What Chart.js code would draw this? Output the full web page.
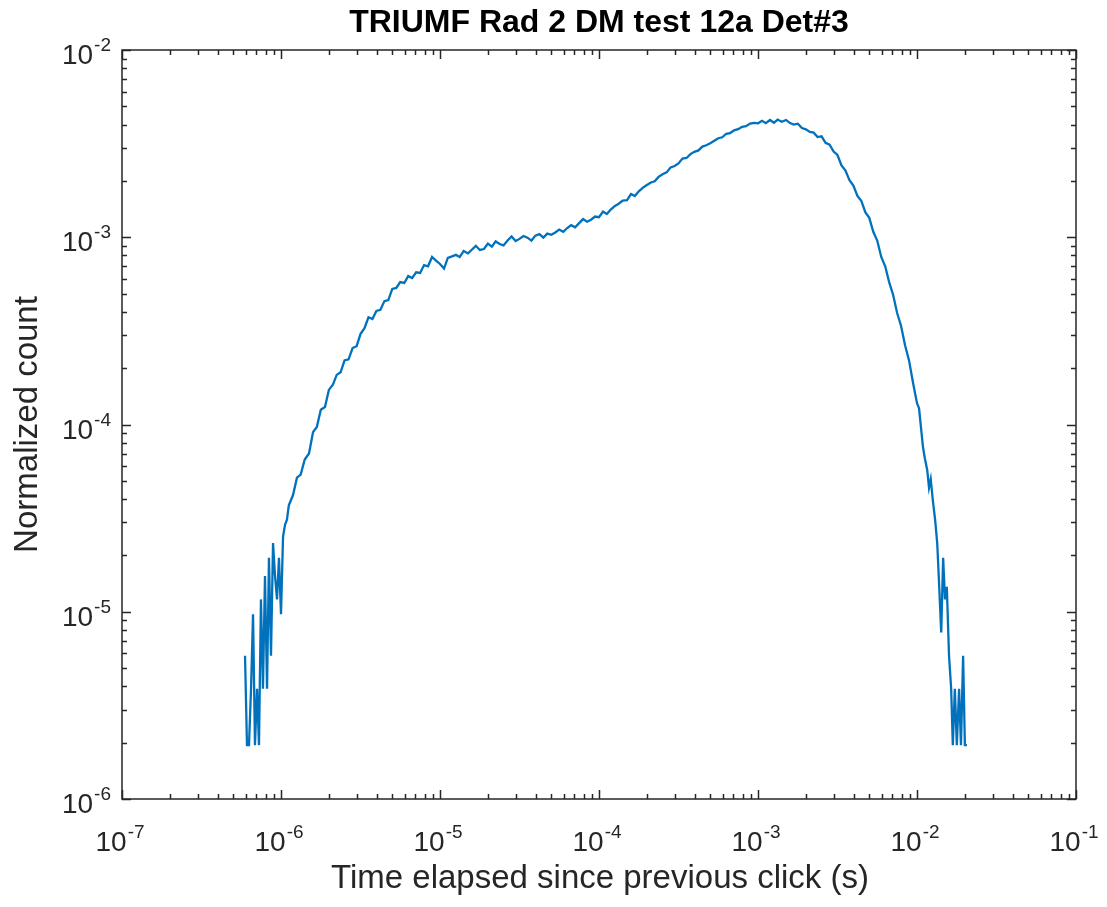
<!DOCTYPE html>
<html>
<head>
<meta charset="utf-8">
<title>TRIUMF Rad 2 DM test 12a Det#3</title>
<script src="https://cdn.jsdelivr.net/npm/chart.js@4"></script>
<style>
  html, body { margin: 0; padding: 0; background: #fff; }
  #wrap { width: 1107px; height: 907px; }
</style>
</head>
<body>
<div id="wrap"><canvas id="histChart"></canvas></div>
<script>
// time between successive clicks (s), log-spaced bins
const clickTime = [
    5.94e-7, 6.11e-7, 6.29e-7, 6.48e-7, 6.67e-7, 6.86e-7, 7.07e-7, 7.27e-7, 7.48e-7, 7.70e-7,
    7.93e-7, 8.17e-7, 8.40e-7, 8.65e-7, 8.91e-7, 9.17e-7, 9.44e-7, 9.71e-7, 1.00e-6, 1.03e-6,
    1.06e-6, 1.09e-6, 1.12e-6,
    1.19e-6, 1.26e-6, 1.33e-6, 1.41e-6, 1.50e-6, 1.59e-6, 1.68e-6, 1.78e-6, 1.89e-6, 2.00e-6,
    2.12e-6, 2.24e-6, 2.37e-6, 2.51e-6, 2.66e-6, 2.82e-6, 2.99e-6, 3.16e-6, 3.35e-6, 3.55e-6,
    3.76e-6, 3.98e-6, 4.22e-6, 4.47e-6, 4.73e-6, 5.01e-6, 5.31e-6, 5.62e-6, 5.96e-6, 6.31e-6,
    6.68e-6, 7.08e-6, 7.50e-6, 7.94e-6, 8.41e-6, 8.91e-6, 9.44e-6,
    1.00e-5, 1.06e-5, 1.12e-5, 1.19e-5, 1.26e-5, 1.33e-5, 1.41e-5, 1.50e-5, 1.59e-5, 1.68e-5,
    1.78e-5, 1.89e-5, 2.00e-5, 2.12e-5, 2.24e-5, 2.37e-5, 2.51e-5, 2.66e-5, 2.82e-5, 2.99e-5,
    3.16e-5, 3.35e-5, 3.55e-5, 3.76e-5, 3.98e-5, 4.22e-5, 4.47e-5, 4.73e-5, 5.01e-5, 5.31e-5,
    5.62e-5, 5.96e-5, 6.31e-5, 6.68e-5, 7.08e-5, 7.50e-5, 7.94e-5, 8.41e-5, 8.91e-5, 9.44e-5,
    1.00e-4, 1.06e-4, 1.12e-4, 1.19e-4, 1.26e-4, 1.33e-4, 1.41e-4, 1.50e-4, 1.59e-4, 1.68e-4,
    1.78e-4, 1.89e-4, 2.00e-4, 2.12e-4, 2.24e-4, 2.37e-4, 2.51e-4, 2.66e-4, 2.82e-4, 2.99e-4,
    3.16e-4, 3.35e-4, 3.55e-4, 3.76e-4, 3.98e-4, 4.22e-4, 4.47e-4, 4.73e-4, 5.01e-4, 5.31e-4,
    5.62e-4, 5.96e-4, 6.31e-4, 6.68e-4, 7.08e-4, 7.50e-4, 7.94e-4, 8.41e-4, 8.91e-4, 9.44e-4,
    1.00e-3, 1.06e-3, 1.12e-3, 1.19e-3, 1.26e-3, 1.33e-3, 1.41e-3, 1.50e-3, 1.59e-3, 1.68e-3,
    1.78e-3, 1.89e-3, 2.00e-3, 2.12e-3, 2.24e-3, 2.37e-3, 2.51e-3, 2.66e-3, 2.82e-3, 2.99e-3,
    3.16e-3, 3.35e-3, 3.55e-3, 3.76e-3, 3.98e-3, 4.22e-3, 4.47e-3, 4.73e-3, 5.01e-3, 5.31e-3,
    5.62e-3, 5.96e-3, 6.31e-3, 6.68e-3, 7.08e-3, 7.50e-3, 7.94e-3, 8.41e-3, 8.91e-3, 9.44e-3,
    1.00e-2, 1.03e-2, 1.06e-2, 1.09e-2, 1.12e-2, 1.16e-2, 1.19e-2, 1.22e-2, 1.26e-2, 1.30e-2,
    1.34e-2, 1.37e-2, 1.42e-2, 1.46e-2, 1.50e-2, 1.54e-2, 1.59e-2, 1.64e-2, 1.68e-2, 1.73e-2,
    1.78e-2, 1.84e-2, 1.89e-2, 1.95e-2, 2.00e-2, 2.06e-2
];

// counts per bin divided by total number of clicks
const normCount = [
    5.82e-6, 1.94e-6, 1.94e-6, 3.88e-6, 9.70e-6, 1.94e-6, 3.88e-6, 1.94e-6, 1.164e-5, 3.88e-6,
    1.552e-5, 3.88e-6, 1.94e-5, 5.82e-6, 2.328e-5, 1.552e-5, 1.164e-5, 1.94e-5, 9.70e-6, 2.522e-5,
    2.91e-5, 3.10e-5, 3.70e-5,
    4.2e-5, 5.2e-5, 5.4e-5, 6.5e-5, 7.0e-5, 9.1e-5, 9.7e-5, 1.20e-4, 1.24e-4, 1.53e-4,
    1.63e-4, 1.84e-4, 1.90e-4, 2.20e-4, 2.23e-4, 2.56e-4, 2.62e-4, 3.04e-4, 3.27e-4, 3.74e-4,
    3.66e-4, 4.04e-4, 4.10e-4, 4.56e-4, 4.62e-4, 5.30e-4, 5.36e-4, 5.76e-4, 5.70e-4, 6.20e-4,
    6.05e-4, 6.50e-4, 6.45e-4, 7.10e-4, 7.00e-4, 7.85e-4, 7.50e-4,
    7.20e-4, 6.80e-4, 7.75e-4, 7.90e-4, 8.05e-4, 7.85e-4, 8.45e-4, 8.20e-4, 8.60e-4, 9.00e-4,
    8.55e-4, 8.65e-4, 9.25e-4, 8.90e-4, 9.50e-4, 9.20e-4, 9.05e-4, 9.60e-4, 1.010e-3, 9.55e-4,
    9.80e-4, 1.015e-3, 9.95e-4, 9.60e-4, 1.020e-3, 1.040e-3, 9.95e-4, 1.045e-3, 1.030e-3, 1.060e-3,
    1.100e-3, 1.070e-3, 1.120e-3, 1.160e-3, 1.130e-3, 1.190e-3, 1.250e-3, 1.210e-3, 1.240e-3, 1.290e-3,
    1.28e-3, 1.37e-3, 1.33e-3, 1.41e-3, 1.47e-3, 1.51e-3, 1.57e-3, 1.58e-3, 1.70e-3, 1.66e-3,
    1.76e-3, 1.84e-3, 1.90e-3, 1.96e-3, 1.99e-3, 2.10e-3, 2.17e-3, 2.22e-3, 2.36e-3, 2.40e-3,
    2.48e-3, 2.63e-3, 2.65e-3, 2.78e-3, 2.86e-3, 2.91e-3, 3.05e-3, 3.10e-3, 3.18e-3, 3.28e-3,
    3.38e-3, 3.42e-3, 3.57e-3, 3.60e-3, 3.72e-3, 3.78e-3, 3.89e-3, 3.92e-3, 4.05e-3, 4.08e-3,
    4.06e-3, 4.19e-3, 4.07e-3, 4.23e-3, 4.09e-3, 4.25e-3, 4.14e-3, 4.23e-3, 4.07e-3, 4.00e-3,
    4.04e-3, 3.83e-3, 3.77e-3, 3.65e-3, 3.62e-3, 3.43e-3, 3.46e-3, 3.19e-3, 3.12e-3, 2.87e-3,
    2.75e-3, 2.42e-3, 2.27e-3, 2.02e-3, 1.89e-3, 1.66e-3, 1.56e-3, 1.36e-3, 1.27e-3, 1.07e-3,
    9.6e-4, 7.85e-4, 7.0e-4, 5.76e-4, 4.92e-4, 3.94e-4, 3.36e-4, 2.65e-4, 2.20e-4, 1.67e-4,
    1.30e-4, 1.22e-4, 9.6e-5, 7.6e-5, 6.6e-5, 5.7e-5, 4.6e-5, 5.1e-5, 3.88e-5, 3.10e-5,
    2.328e-5, 1.552e-5, 7.76e-6, 1.94e-5, 1.164e-5, 1.358e-5, 5.82e-6, 3.88e-6, 1.94e-6, 3.88e-6,
    1.94e-6, 3.88e-6, 1.94e-6, 5.82e-6, 1.94e-6, 1.94e-6
];

// decade exponents for the axis labels
const xTickExp = [-7, -6, -5, -4, -3, -2, -1];
const yTickExp = [-6, -5, -4, -3, -2];

const AXIS_COLOR = '#262626';
const FONT = '"Liberation Sans", Arial, Helvetica, sans-serif';

// draw "10" with a raised exponent
function powerLabel(ctx, exp, x, y, align) {
    ctx.font = '28px ' + FONT;
    const base = '10';
    const wBase = ctx.measureText(base).width;
    ctx.font = '19px ' + FONT;
    const sup = String(exp);
    const wSup = ctx.measureText(sup).width;
    const total = wBase + wSup + 1;
    let left = x - total / 2;
    if (align === 'right') left = x - total;
    ctx.textAlign = 'left';
    ctx.font = '28px ' + FONT;
    ctx.fillText(base, left, y);
    ctx.font = '19px ' + FONT;
    ctx.fillText(sup, left + wBase + 1, y - 13);
}

// box, inward ticks, labels and titles in the MATLAB look
const matlabAxes = {
    id: 'matlabAxes',
    afterDraw(chart) {
        const { ctx, chartArea: a, scales: { x, y } } = chart;
        ctx.save();
        ctx.strokeStyle = AXIS_COLOR;
        ctx.lineWidth = 1.5;

        ctx.beginPath();
        for (let e = xTickExp[0]; e < xTickExp[xTickExp.length - 1] + 1; e++) {
            for (let m = 1; m < 10; m++) {
                const v = m * Math.pow(10, e);
                if (v > x.max * 1.0001) break;
                const px = Math.round(x.getPixelForValue(v)) + 0.5;
                const len = m === 1 ? 9 : 5;
                ctx.moveTo(px, a.bottom); ctx.lineTo(px, a.bottom - len);
                ctx.moveTo(px, a.top); ctx.lineTo(px, a.top + len);
            }
        }
        for (let e = yTickExp[0]; e < yTickExp[yTickExp.length - 1] + 1; e++) {
            for (let m = 1; m < 10; m++) {
                const v = m * Math.pow(10, e);
                if (v > y.max * 1.0001) break;
                const py = Math.round(y.getPixelForValue(v)) + 0.5;
                const len = m === 1 ? 9 : 5;
                ctx.moveTo(a.left, py); ctx.lineTo(a.left + len, py);
                ctx.moveTo(a.right, py); ctx.lineTo(a.right - len, py);
            }
        }
        ctx.stroke();
        ctx.strokeRect(a.left, a.top, a.right - a.left, a.bottom - a.top);

        ctx.fillStyle = AXIS_COLOR;
        ctx.textBaseline = 'alphabetic';
        xTickExp.forEach(e => {
            powerLabel(ctx, e, x.getPixelForValue(Math.pow(10, e)) - 2, a.bottom + 52, 'center');
        });
        yTickExp.forEach(e => {
            powerLabel(ctx, e, a.left - 11, y.getPixelForValue(Math.pow(10, e)) + 14, 'right');
        });

        // axis titles
        ctx.font = '33px ' + FONT;
        ctx.textAlign = 'center';
        ctx.fillText('Time elapsed since previous click (s)', (a.left + a.right) / 2 + 1, 888);
        ctx.save();
        ctx.translate(37, (a.top + a.bottom) / 2);
        ctx.rotate(-Math.PI / 2);
        ctx.fillText('Normalized count', 0, 0);
        ctx.restore();

        ctx.fillStyle = '#000';
        ctx.font = 'bold 32px ' + FONT;
        ctx.fillText('TRIUMF Rad 2 DM test 12a Det#3', (a.left + a.right) / 2, 32);
        ctx.restore();
    }
};

const points = clickTime.map((t, i) => ({ x: t, y: normCount[i] }));

new Chart(document.getElementById('histChart').getContext('2d'), {
    type: 'line',
    data: {
        datasets: [{
            data: points,
            borderColor: '#0072BD',
            borderWidth: 2.3,
            pointRadius: 0,
            tension: 0,
            fill: false
        }]
    },
    options: {
        animation: false,
        responsive: true,
        maintainAspectRatio: false,
        layout: { padding: { left: 122, right: 31, top: 50, bottom: 108 } },
        plugins: {
            legend: { display: false },
            tooltip: { enabled: false },
            title: { display: false }
        },
        scales: {
            x: { type: 'logarithmic', min: 1e-7, max: 1e-1, display: false },
            y: { type: 'logarithmic', min: 1e-6, max: 1e-2, display: false }
        }
    },
    plugins: [matlabAxes]
});
</script>
</body>
</html>
